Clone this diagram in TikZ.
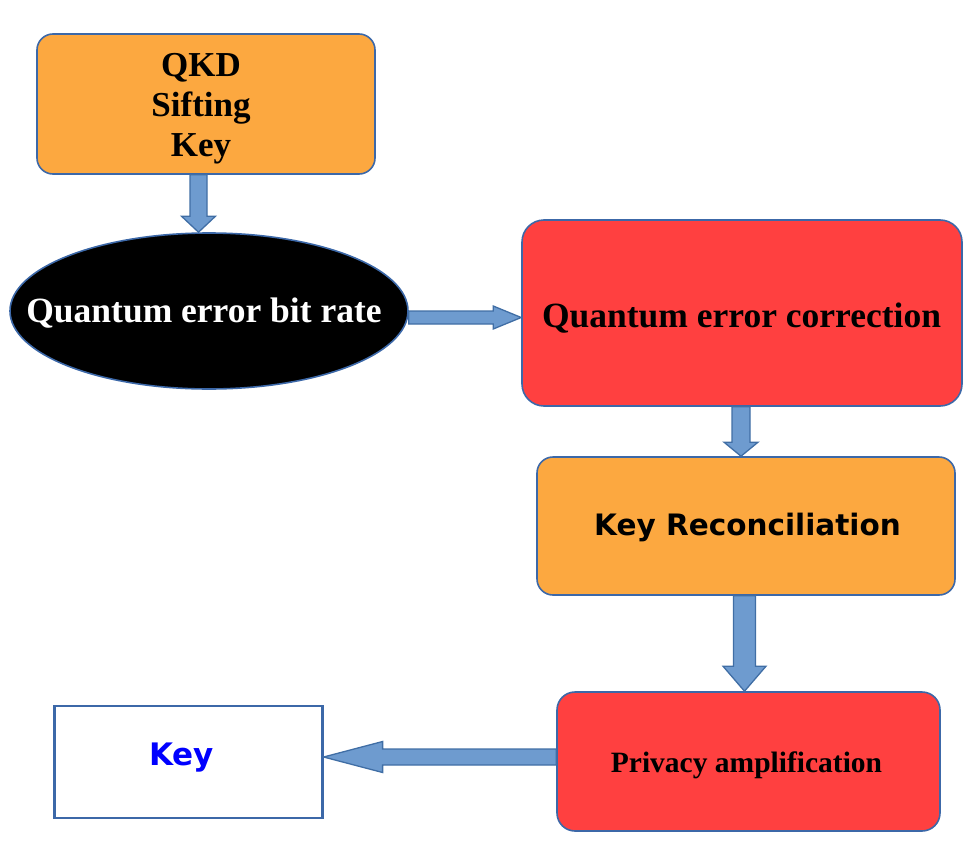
\documentclass[tikz,border=0pt]{standalone}
\usepackage{fontspec}
\setmainfont{Liberation Serif}
\newfontfamily\dvsans{DejaVu Sans}
\usetikzlibrary{calc,shapes.geometric}
\definecolor{borderblue}{RGB}{60,104,168}
\definecolor{boxorange}{RGB}{252,168,64}
\definecolor{boxred}{RGB}{255,64,64}
\definecolor{arrfill}{RGB}{110,155,207}
\definecolor{arredge}{RGB}{64,110,165}
\tikzset{
  obox/.style={draw=borderblue, line width=1.6pt, fill=boxorange, rounded corners=16pt, inner sep=0pt},
  rbox/.style={draw=borderblue, line width=1.6pt, fill=boxred, rounded corners=22pt, inner sep=0pt},
  wbox/.style={draw=borderblue, line width=2.2pt, fill=white, inner sep=0pt},
  ebox/.style={ellipse, draw=borderblue, line width=1.6pt, fill=black, inner sep=0pt},
  barrow/.style={fill=arrfill, draw=arredge, line width=1.3pt, line join=miter},
  lbl/.style={font=\bfseries, align=center, inner sep=0pt}
}
\newcommand\blockarr[5]{%
  \coordinate (ba-a) at (#1);
  \coordinate (ba-b) at (#2);
  \coordinate (ba-h) at ($(ba-b)!#5!(ba-a)$);
  \filldraw[barrow] ($(ba-a)!#3!90:(ba-b)$) -- ($(ba-h)!#3!-90:(ba-a)$)
    -- ($(ba-h)!#4!-90:(ba-a)$) -- (ba-b) -- ($(ba-h)!#4!90:(ba-a)$)
    -- ($(ba-h)!#3!90:(ba-a)$) -- ($(ba-a)!#3!-90:(ba-b)$) -- cycle;
}
\begin{document}
\begin{tikzpicture}[x=1pt,y=-1pt]
\useasboundingbox (0,0) rectangle (980,862);
% nodes
\node[obox, minimum width=338pt, minimum height=140pt] (qkd) at (206,104) {};
\node[lbl, font=\fontsize{35}{40}\selectfont\bfseries] (qkdt) at (201,109) {QKD\\Sifting\\Key};
\node[ebox, minimum width=398pt, minimum height=156pt] (qber) at (209,311) {};
\node[lbl, text=white, font=\fontsize{35.5}{40}\selectfont\bfseries] (qbert) at (204,313) {Quantum error bit rate};
\node[rbox, minimum width=440pt, minimum height=186pt] (qec) at (742,313) {};
\node[lbl, font=\fontsize{35.5}{40}\selectfont\bfseries] (qect) at (741.5,318) {Quantum error correction};
\node[obox, minimum width=418pt, minimum height=138pt] (recon) at (746,526) {};
\node[lbl, font=\dvsans\fontsize{29.5}{34}\selectfont\bfseries] (recont) at (747.5,527) {Key Reconciliation};
\node[rbox, minimum width=383pt, minimum height=139pt, rounded corners=18pt] (priv) at (748.5,761.5) {};
\node[lbl, font=\fontsize{29.5}{34}\selectfont\bfseries] (privt) at (746.5,765) {Privacy amplification};
\node[wbox, minimum width=268pt, minimum height=112pt] (key) at (188.5,762) {};
\node[lbl, text=blue, font=\dvsans\fontsize{31}{36}\selectfont\bfseries] (keyt) at (181.5,758) {Key};
% arrows
\blockarr{198.5,0 |- qkd.south}{198.5,0 |- qber.north}{8.5pt}{17pt}{16pt}
\blockarr{qber.east |- 0,317.5}{qec.west |- 0,317.5}{6.5pt}{11.5pt}{28pt}
\blockarr{741,0 |- qec.south}{741,0 |- recon.north}{9pt}{17pt}{14pt}
\blockarr{744.5,0 |- recon.south}{744.5,0 |- priv.north}{11pt}{21.5pt}{25pt}
\blockarr{priv.west |- 0,757}{key.east |- 0,757}{8pt}{15.5pt}{59pt}
\end{tikzpicture}
\end{document}
